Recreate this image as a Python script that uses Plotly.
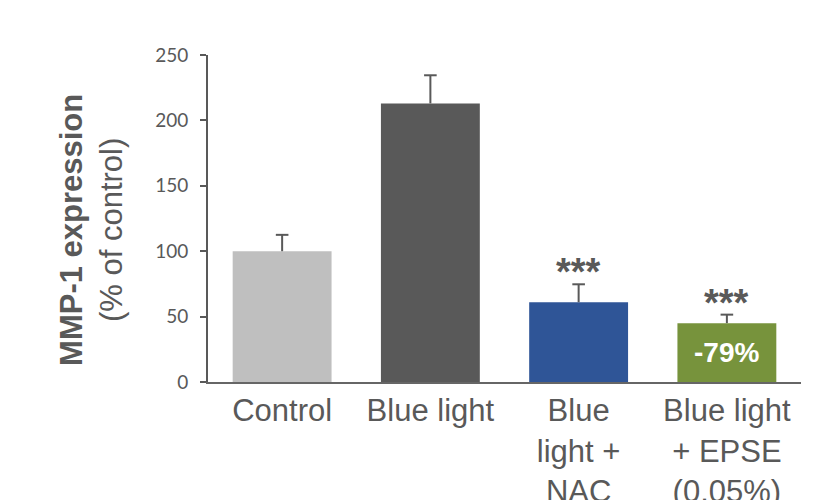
import plotly.graph_objects as go

categories = ["Control", "Blue light", "Blue light + NAC", "Blue light + EPSE (0.05%)"]
tick_labels = ["Control", "Blue light", "Blue<br>light +<br>NAC", "Blue light<br>+ EPSE<br>(0.05%)"]
values = [100, 213, 61, 45]
errors = [12.5, 21.5, 13.7, 6.5]
colors = ["#BFBFBF", "#595959", "#2F5597", "#77933C"]
stars = ["", "", "***", "***"]
inside_labels = ["", "", "", "-79%"]
y_ticks = [0, 50, 100, 150, 200, 250]

GRAY = "#595959"
tops = [v + e for v, e in zip(values, errors)]

fig = go.Figure()
fig.add_trace(go.Bar(
    x=categories,
    y=values,
    marker=dict(color=colors, line=dict(width=0)),
    width=0.667,
    showlegend=False,
    hoverinfo="skip",
))
# upper error whiskers (no lower cap)
fig.add_trace(go.Scatter(
    x=categories, y=tops, mode="markers",
    marker=dict(symbol="line-ew", size=9, line=dict(color=GRAY, width=2)),
    error_y=dict(type="data", symmetric=False, array=[0]*len(errors), arrayminus=errors,
                 color=GRAY, thickness=2, width=0),
    showlegend=False, hoverinfo="skip",
))

for c, t, s in zip(categories, tops, stars):
    if s:
        fig.add_annotation(x=c, y=t, text="<b>" + s + "</b>", showarrow=False,
                           xref="x", yref="y", yanchor="bottom", yshift=-11,
                           font=dict(family="Liberation Sans", size=38, color=GRAY))

for c, v, t in zip(categories, values, inside_labels):
    if t:
        fig.add_annotation(x=c, y=v / 2, text="<b>" + t + "</b>", showarrow=False,
                           xref="x", yref="y", yanchor="middle",
                           font=dict(family="Liberation Sans", size=28, color="white"))

fig.add_annotation(
    x=0, xref="paper", xshift=-116, xanchor="center",
    y=0.465, yref="paper", yanchor="middle",
    text="<b>MMP-1 expression</b><br>(% of control)",
    textangle=-90, showarrow=False,
    font=dict(family="Liberation Sans", size=31, color=GRAY),
)

fig.update_layout(
    width=820, height=492,
    margin=dict(l=200, r=27, t=47, b=118),
    paper_bgcolor="white", plot_bgcolor="white",
    xaxis=dict(
        tickmode="array", tickvals=categories, ticktext=tick_labels,
        tickfont=dict(family="Liberation Sans", size=31, color=GRAY),
        showline=True, linecolor="#666666", linewidth=2,
        ticks="", showgrid=False, zeroline=False,
        range=[-0.5, 3.5], tickangle=0, automargin=False,
    ),
    yaxis=dict(
        range=[0, 250], tickvals=y_ticks,
        tickfont=dict(family="Lato", size=19, color=GRAY),
        showline=True, linecolor=GRAY, linewidth=2,
        ticks="outside", ticklen=6, tickwidth=2, tickcolor=GRAY,
        showgrid=False, zeroline=False, automargin=False,
        ticklabelstandoff=8,
    ),
)

fig.write_html("out.html")
